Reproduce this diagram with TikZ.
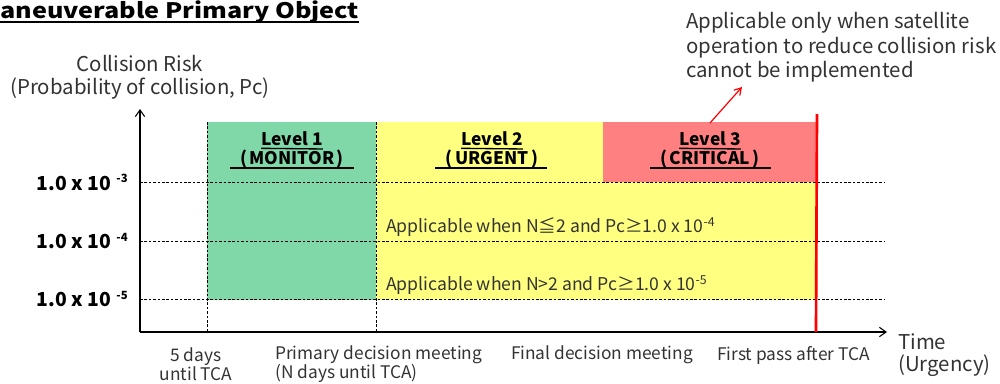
\documentclass[tikz,border=0pt]{standalone}
\usepackage{fontspec}
\setmainfont{Noto Sans CJK JP}
\newfontfamily\titlefont[FakeStretch=1.18]{Noto Sans CJK JP}
\usetikzlibrary{arrows.meta}
\definecolor{lvgreen}{RGB}{128,215,168}
\definecolor{lvyellow}{RGB}{255,255,128}
\definecolor{lvred}{RGB}{255,128,128}
\definecolor{lvline}{RGB}{255,0,0}
\begin{document}
\begin{tikzpicture}[x=0.75pt,y=-0.75pt,
  txt/.style={font=\fontsize{13}{14.25}\selectfont, inner sep=0pt, text=black!80},
  big/.style={font=\fontsize{15.3}{17.3}\selectfont, inner sep=0pt, text=black!80},
  ylab/.style={font=\fontsize{14.5}{16}\selectfont\bfseries, inner sep=0pt, anchor=east},
  lvl/.style={font=\fontsize{13}{15}\selectfont\bfseries, inner sep=0pt, align=center},
  grid/.style={line width=0.6pt, dash pattern=on 2pt off 1.3pt},
  axis/.style={line width=0.8pt, -{Straight Barb[length=5pt,width=7pt]}}]
\useasboundingbox (0,0) rectangle (1000,383);
\clip (0,0) rectangle (1000,383);
% title
\node[font=\titlefont\fontsize{16}{18}\selectfont\bfseries, inner sep=0pt, anchor=base west] (title) at (0,18) {aneuverable Primary Object};
\draw[line width=1.4pt] (0,22) -- (title.east |- 0,22);
% fills
\fill[lvgreen] (207,122) rectangle (376,300);
\fill[lvyellow] (376,122) rectangle (817,300);
\fill[lvred] (603,122) rectangle (817,182);
% coordinates
\coordinate (O) at (140,332);
\coordinate (ytop) at (140,109);
\coordinate (xend) at (887,332);
\foreach \y/\n in {182/3,241/4,299/5} {
  \coordinate (h\n a) at (140,\y);
  \coordinate (h\n b) at (885,\y);
  \draw[grid] (h\n a) -- (h\n b);
  \node[ylab] (yl\n) at (128,\y) {1.0 x 10\hspace{4pt}\raisebox{0.75ex}{\fontsize{8.5}{10}\selectfont -\n}};
}
\foreach \x/\n in {207/1,376/2} {
  \coordinate (v\n a) at (\x,122);
  \coordinate (v\n b) at (\x,332);
  \draw[grid] (v\n a) -- (v\n b);
}
% axes
\draw[axis] (O) -- (ytop);
\draw[axis] (O) -- (xend);
% red vertical
\coordinate (r1) at (817,114);
\coordinate (r2) at (816,332);
\draw[lvline, line width=2pt] (r1) -- (r2);
% levels
\node[lvl] (l1a) at (292,139) {Level 1};
\draw[line width=1pt] (l1a.south west) ++(0,2) -- ([yshift=-2]l1a.south east);
\node[lvl] (l1b) at (292,159) {(\hspace{2pt}MONITOR\hspace{2pt})};
\draw[line width=1.6pt] (230,168) -- (354,168);
\node[lvl] (l2a) at (492,139) {Level 2};
\draw[line width=1pt] (l2a.south west) ++(0,2) -- ([yshift=-2]l2a.south east);
\node[lvl] (l2b) at (492,159) {(\hspace{2pt}URGENT\hspace{2pt})};
\draw[line width=1.6pt] (435,168) -- (547,168);
\node[lvl] (l3a) at (710,139) {Level 3};
\draw[line width=1pt] (l3a.south west) ++(0,2) -- ([yshift=-2]l3a.south east);
\node[lvl] (l3b) at (710,159) {(\hspace{2pt}CRITICAL\hspace{2pt})};
\draw[line width=1.6pt] (650,168) -- (771,168);
% applicable texts
\node[txt, anchor=west, font=\fontsize{13.2}{15}\selectfont] (ap1) at (386,227) {Applicable when N≦2 and Pc≥1.0 x 10\textsuperscript{-4}};
\node[txt, anchor=west, font=\fontsize{13.2}{15}\selectfont] (ap2) at (386,285) {Applicable when N>2 and Pc≥1.0 x 10\textsuperscript{-5}};
% annotation
\node[big, anchor=north west, align=left, font=\fontsize{15.3}{18.5}\selectfont] (note) at (686,12) {Applicable only when satellite\\operation to reduce collision risk\\cannot be implemented};
\coordinate (a1) at (710,123);
\coordinate (a2) at (742,87);
\draw[lvline, line width=0.9pt, -{Straight Barb[length=5pt,width=6pt]}] (a1) -- (a2);
% y label
\node[big, align=center] (ylabel) at (140,77.5) {Collision Risk\\(Probability of collision, Pc)};
% x labels
\node[txt, align=center] (t1) at (196,364) {5 days\\until TCA};
\node[txt, anchor=west, align=left] (t2) at (275,364) {Primary decision meeting\\(N days until TCA)};
\node[txt] (t3) at (602,355) {Final decision meeting};
\node[txt] (t4) at (793.5,355) {First pass after TCA};
\node[big, anchor=west, align=left, font=\fontsize{15.3}{16.5}\selectfont] (tl) at (898,355) {Time\\(Urgency)};
\end{tikzpicture}
\end{document}
